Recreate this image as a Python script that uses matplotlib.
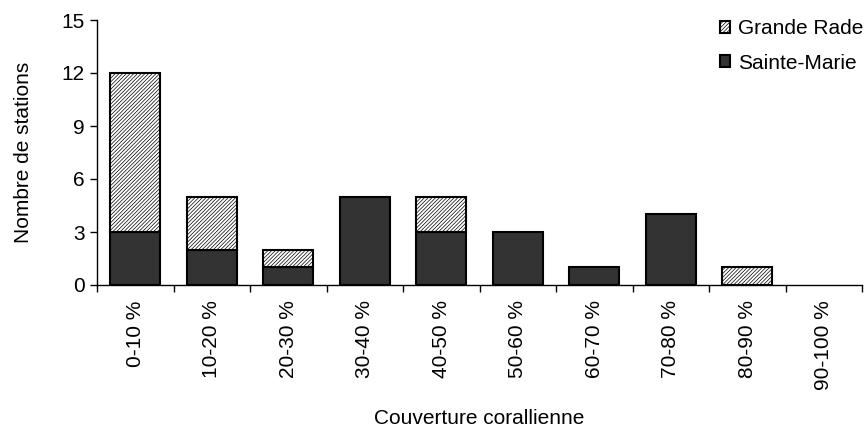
import numpy as np
import matplotlib
matplotlib.use("Agg")
import matplotlib.pyplot as plt

categories = ['0-10 %', '10-20 %', '20-30 %', '30-40 %', '40-50 %',
              '50-60 %', '60-70 %', '70-80 %', '80-90 %', '90-100 %']
sainte_marie = [3, 2, 1, 5, 3, 3, 1, 4, 0, 0]
grande_rade = [9, 3, 1, 0, 2, 0, 0, 0, 1, 0]

plt.rcParams['font.family'] = ['Liberation Sans', 'DejaVu Sans']
plt.rcParams['hatch.linewidth'] = 0.5
plt.rcParams['hatch.color'] = '#333333'

fs = 15
fig = plt.figure(figsize=(8.66, 4.32), dpi=100)
ax = fig.add_axes([97 / 866, 1 - 285 / 432, 765 / 866, 265 / 432])

x = np.arange(len(categories))
sm = np.array(sainte_marie)
gr = np.array(grande_rade)

# only non-zero segments get drawn
m = sm > 0
ax.bar(x[m], sm[m], width=0.66, color='#333333', edgecolor='black', linewidth=1.5,
       label='Sainte-Marie', zorder=3)
g = gr > 0
ax.bar(x[g], gr[g], bottom=sm[g], width=0.66, color='white', edgecolor='black',
       linewidth=1.5, hatch='/////////', label='Grande Rade', zorder=3)

ax.set_xlim(-0.5, len(categories) - 0.5)
ax.set_ylim(0, 15)
ax.set_yticks([0, 3, 6, 9, 12, 15])
ax.set_xticks(x)
ax.set_xticklabels(categories, rotation=90, fontsize=fs)
ax.tick_params(axis='x', length=0, pad=11)
ax.set_xticks(np.arange(len(categories) + 1) - 0.5, minor=True)
ax.tick_params(axis='x', which='minor', length=5, width=1, direction='out')
ax.tick_params(axis='y', labelsize=fs, length=5, width=1, pad=4)

for s in ['top', 'right']:
    ax.spines[s].set_visible(False)
ax.spines['left'].set_linewidth(1)
ax.spines['bottom'].set_linewidth(1)

ax.set_ylabel('Nombre de stations', fontsize=fs, labelpad=20)
ax.set_xlabel('Couverture corallienne', fontsize=fs, labelpad=14)

h, l = ax.get_legend_handles_labels()
fig.legend(h[::-1], l[::-1], loc='upper right', bbox_to_anchor=(863 / 866, 1 - 19 / 432),
           frameon=False, fontsize=fs, borderpad=0, borderaxespad=0,
           handlelength=0.5, handleheight=0.5, handletextpad=0.35, labelspacing=0.75)

fig.savefig('out.png', dpi=100)
